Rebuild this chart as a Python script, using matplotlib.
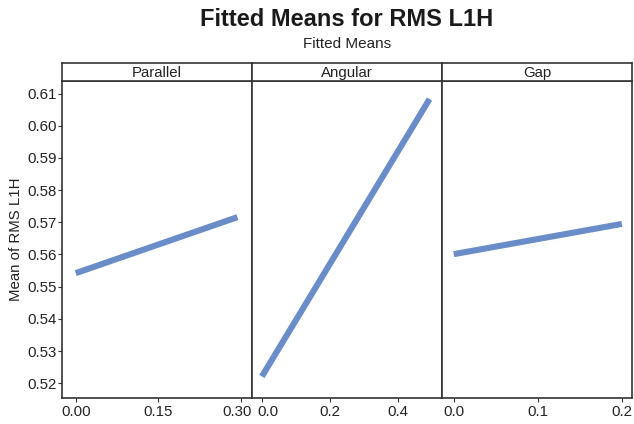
import matplotlib
import numpy as np

from matplotlib import pyplot as plt
from matplotlib.transforms import ScaledTranslation

matplotlib.rcParams['font.family'] = ['Liberation Sans', 'DejaVu Sans']

panel_names = ['Parallel', 'Angular', 'Gap']
x_values = [[0.00, 0.294], [0.00, 0.492], [0.00, 0.20]]
y_values = [[0.5542, 0.5716], [0.5221, 0.6083], [0.5601, 0.5695]]
x_limits = [(-0.025, 0.3205), (-0.029, 0.5285), (-0.014, 0.212)]
x_ticks = [[0.00, 0.15, 0.30], [0.0, 0.2, 0.4], [0.0, 0.1, 0.2]]
x_tick_labels = [['0.00', '0.15', '0.30'], ['0.0', '0.2', '0.4'], ['0.0', '0.1', '0.2']]
y_ticks = [0.52, 0.53, 0.54, 0.55, 0.56, 0.57, 0.58, 0.59, 0.60, 0.61]

W, H = 634, 424
fig = plt.figure(figsize=(W / 100, H / 100), dpi=100)

line_color = '#6a8cc8'
edge = '#333333'
panel_edges = [62, 252, 442, 632]
plot_top, plot_bottom, strip_top = 81, 397.7, 63.3
# nudge the crowded labels at the panel joins apart (pixels)
label_shift = {(0, 2): -4, (1, 0): 6}

for i, name in enumerate(panel_names):
    x0, x1 = panel_edges[i], panel_edges[i + 1]
    ax = fig.add_axes([x0 / W, 1 - plot_bottom / H, (x1 - x0) / W, (plot_bottom - plot_top) / H])
    ax.plot(x_values[i], y_values[i], color=line_color, linewidth=4.4, solid_capstyle='butt')
    ax.set_xlim(*x_limits[i])
    ax.set_ylim(0.5155, 0.6139)
    ax.set_xticks(x_ticks[i])
    ax.set_xticklabels(x_tick_labels[i])
    ax.tick_params(axis='x', labelsize=10.8, length=3, width=0.8, color=edge, pad=2, labelcolor='#222222')
    for j, lab in enumerate(ax.get_xticklabels()):
        if (i, j) in label_shift:
            lab.set_transform(lab.get_transform() + ScaledTranslation(label_shift[(i, j)] / 100, 0, fig.dpi_scale_trans))
    if i == 0:
        ax.set_yticks(y_ticks)
        ax.set_yticklabels([f'{v:.2f}' for v in y_ticks])
        ax.tick_params(axis='y', labelsize=10.8, length=3, width=0.8, color=edge, pad=1, labelcolor='#222222')
        ax.set_ylabel('Mean of RMS L1H', fontsize=10.8, labelpad=3, color='#222222')
    else:
        ax.set_yticks([])
    for s in ax.spines.values():
        s.set_color(edge)
        s.set_linewidth(1.2)

    sax = fig.add_axes([x0 / W, 1 - plot_top / H, (x1 - x0) / W, (plot_top - strip_top) / H])
    sax.set_xticks([])
    sax.set_yticks([])
    for s in sax.spines.values():
        s.set_color(edge)
        s.set_linewidth(1.2)
    sax.text(0.5, 0.45, name, ha='center', va='center', fontsize=10.8, color='#222222',
             transform=sax.transAxes)

cx = (panel_edges[0] + panel_edges[-1]) / 2 / W
fig.text(cx, 1 - 20 / H, 'Fitted Means for RMS L1H', ha='center', va='center',
         fontsize=17, fontweight='bold', color='#1a1a1a')
fig.text(cx, 1 - 44 / H, 'Fitted Means', ha='center', va='center', fontsize=11, color='#222222')

plt.savefig('out.png', dpi=100)
plt.close()
